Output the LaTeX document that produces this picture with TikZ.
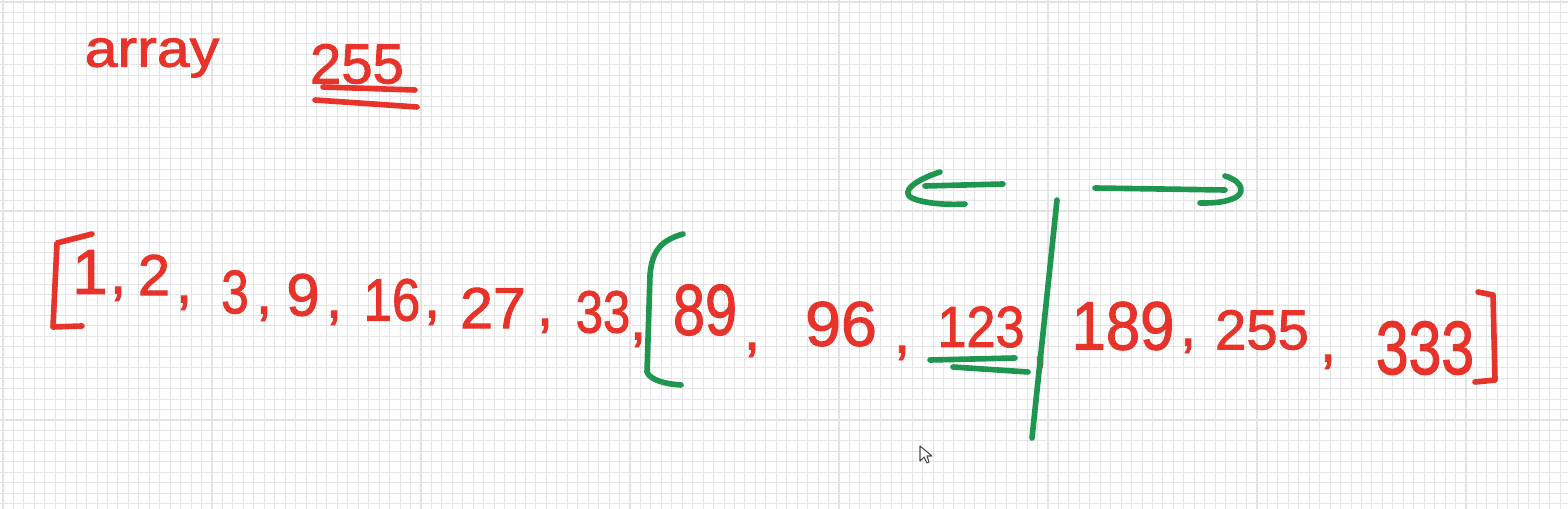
\documentclass[tikz,border=0pt]{standalone}
\usepackage{graphicx}
\usepackage{fontspec}
\setmainfont{Liberation Sans}
\newfontfamily\penfont[FakeBold=1.6]{Liberation Sans}
\definecolor{pred}{HTML}{E8332A}
\definecolor{pgreen}{HTML}{1E9650}
\definecolor{gridc}{HTML}{E4E4E4}
\newcommand{\hw}[3]{\scalebox{#2}[1]{\penfont\fontsize{#1}{#1}\selectfont #3}}
\begin{document}
\begin{tikzpicture}[x=0.02cm,y=-0.02cm,
  pen/.style={line width=3.2pt, line cap=round, line join=round},
  num/.style={text=pred, inner sep=0pt},
  commastyle/.style={text=pred, font=\penfont\fontsize{34}{34}\selectfont, inner sep=0pt}]
\useasboundingbox (0,0) rectangle (1568,509);
\fill[white] (0,0) rectangle (1568,509);
\foreach \i in {0,...,150} \draw[gridc, line width=0.6pt] ({\i*10.45+3},0) -- ({\i*10.45+3},509);
\foreach \j in {0,...,49} \draw[gridc, line width=0.6pt] (0,{\j*10.45+2}) -- (1568,{\j*10.45+2});

% title
\node[num] (arr) at (152,58) {\hw{30}{1.12}{array}};
\node[num] (target) at (357,64) {\hw{32}{1}{255}};
\coordinate (u1a) at (323,87); \coordinate (u1b) at (415,90);
\coordinate (u2a) at (315,100); \coordinate (u2b) at (417,107);
\draw[pred, pen] (u1a) -- (u1b);
\draw[pred, pen] (u2a) -- (u2b);

% numbers
\node[num] (n1) at (90,272) {\hw{36}{1}{1}};
\node[commastyle] (c1) at (118,294) {,};
\node[num] (n2) at (154,275) {\hw{33}{1}{2}};
\node[commastyle] (c2) at (184,303) {,};
\node[num] (n3) at (235,292) {\hw{35}{0.8}{3}};
\node[commastyle] (c3) at (264,314) {,};
\node[num] (n4) at (303,295) {\hw{34}{1}{9}};
\node[commastyle] (c4) at (334,318) {,};
\node[num] (n5) at (392,300) {\hw{34}{0.85}{16}};
\node[commastyle] (c5) at (432,318) {,};
\node[num] (n6) at (493,308) {\hw{33}{1.02}{27}};
\node[commastyle] (c6) at (545,326) {,};
\node[num] (n7) at (603,312) {\hw{34}{0.82}{33}};
\node[commastyle] (c7) at (638,340) {,};
\node[num] (n8) at (705,310) {\hw{41}{0.8}{89}};
\node[commastyle] (c8) at (752,350) {,};
\node[num] (n9) at (841,324) {\hw{36}{1.02}{96}};
\node[commastyle] (c9) at (902,353) {,};
\node[num] (n10) at (981,327) {\hw{33}{0.9}{123}};
\node[commastyle] (c10) at (1040,364) {,};
\node[num] (n11) at (1123,326) {\hw{39}{0.9}{189}};
\node[commastyle] (c11) at (1188,346) {,};
\node[num] (n12) at (1262,330) {\hw{32}{1}{255}};
\node[commastyle] (c12) at (1328,362) {,};
\node[num] (n13) at (1425,348) {\hw{43}{0.78}{333}};

% red brackets
\draw[pred, pen] (92,234) -- (57,243) -- (53,327) -- (82,326);
\draw[pred, pen] (1478,292) -- (1493,295) -- (1495,380) -- (1475,382);

% green bracket
\draw[pgreen, pen] (683,234) .. controls (662,240) and (652,250) .. (650,275) -- (647,372) .. controls (650,380) and (665,384) .. (681,385);

% green underline of 123
\draw[pgreen, pen] (930,360) -- (1015,358);
\draw[pgreen, pen] (953,367) -- (1028,372);

% divider
\coordinate (vt) at (1057,200); \coordinate (vb) at (1032,438);
\draw[pgreen, pen] (vt) -- (vb);

% left arrow
\draw[pgreen, pen] (1003,184) -- (925,186);
\draw[pgreen, pen] (940,172) .. controls (915,180) and (900,192) .. (912,198) .. controls (925,204) and (950,205) .. (965,204);
% right arrow
\draw[pgreen, pen] (1095,188) -- (1225,190);
\draw[pgreen, pen] (1225,176) .. controls (1245,182) and (1245,195) .. (1232,199) .. controls (1222,203) and (1210,203) .. (1200,203);

% cursor
\draw[fill=white, draw=black!70, line width=0.6pt, line join=round] (920,446) -- (920,461) -- (924,457) -- (927,463) -- (929,462) -- (927,456) -- (932,456) -- cycle;
\end{tikzpicture}
\end{document}
